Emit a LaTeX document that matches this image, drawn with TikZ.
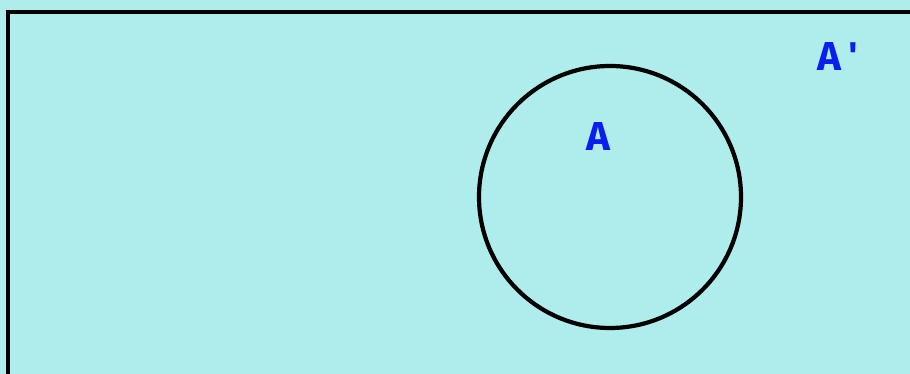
\documentclass[tikz,border=0pt]{standalone}
\usepackage{fontspec}
\setmainfont{Fira Sans}
\newfontfamily\tickfont{Liberation Sans}
\usepackage{xcolor}
\usepackage{tikz}
\definecolor{venncyan}{HTML}{AFEDED}
\definecolor{labelblue}{HTML}{0A1EF0}

\begin{document}
\begin{tikzpicture}[
  x=0.02cm, y=0.02cm,
  setlabel/.style={text=labelblue, font=\fontsize{23}{26}\selectfont\bfseries, inner sep=0pt},
  universe/.style={draw=black, line width=2.5pt},
  setring/.style={draw=black, line width=2.4pt, circle, minimum size=262*0.02cm, inner sep=0pt},
]
% background, fixes the page size
\fill[venncyan] (0,0) rectangle (910,374);
\useasboundingbox (0,0) rectangle (910,374);
\begin{scope}
\clip (0,0) rectangle (910,374);
\draw[universe] (8,-40) -- (8,362) -- (960,362);
\end{scope}

\node[setring] (A) at (610,177) {};
\node[setlabel] (lA) at (598,237) {A};
\node[setlabel] (lAc) at (838,317) {A\,{\tickfont\char"27}};
\end{tikzpicture}
\end{document}
